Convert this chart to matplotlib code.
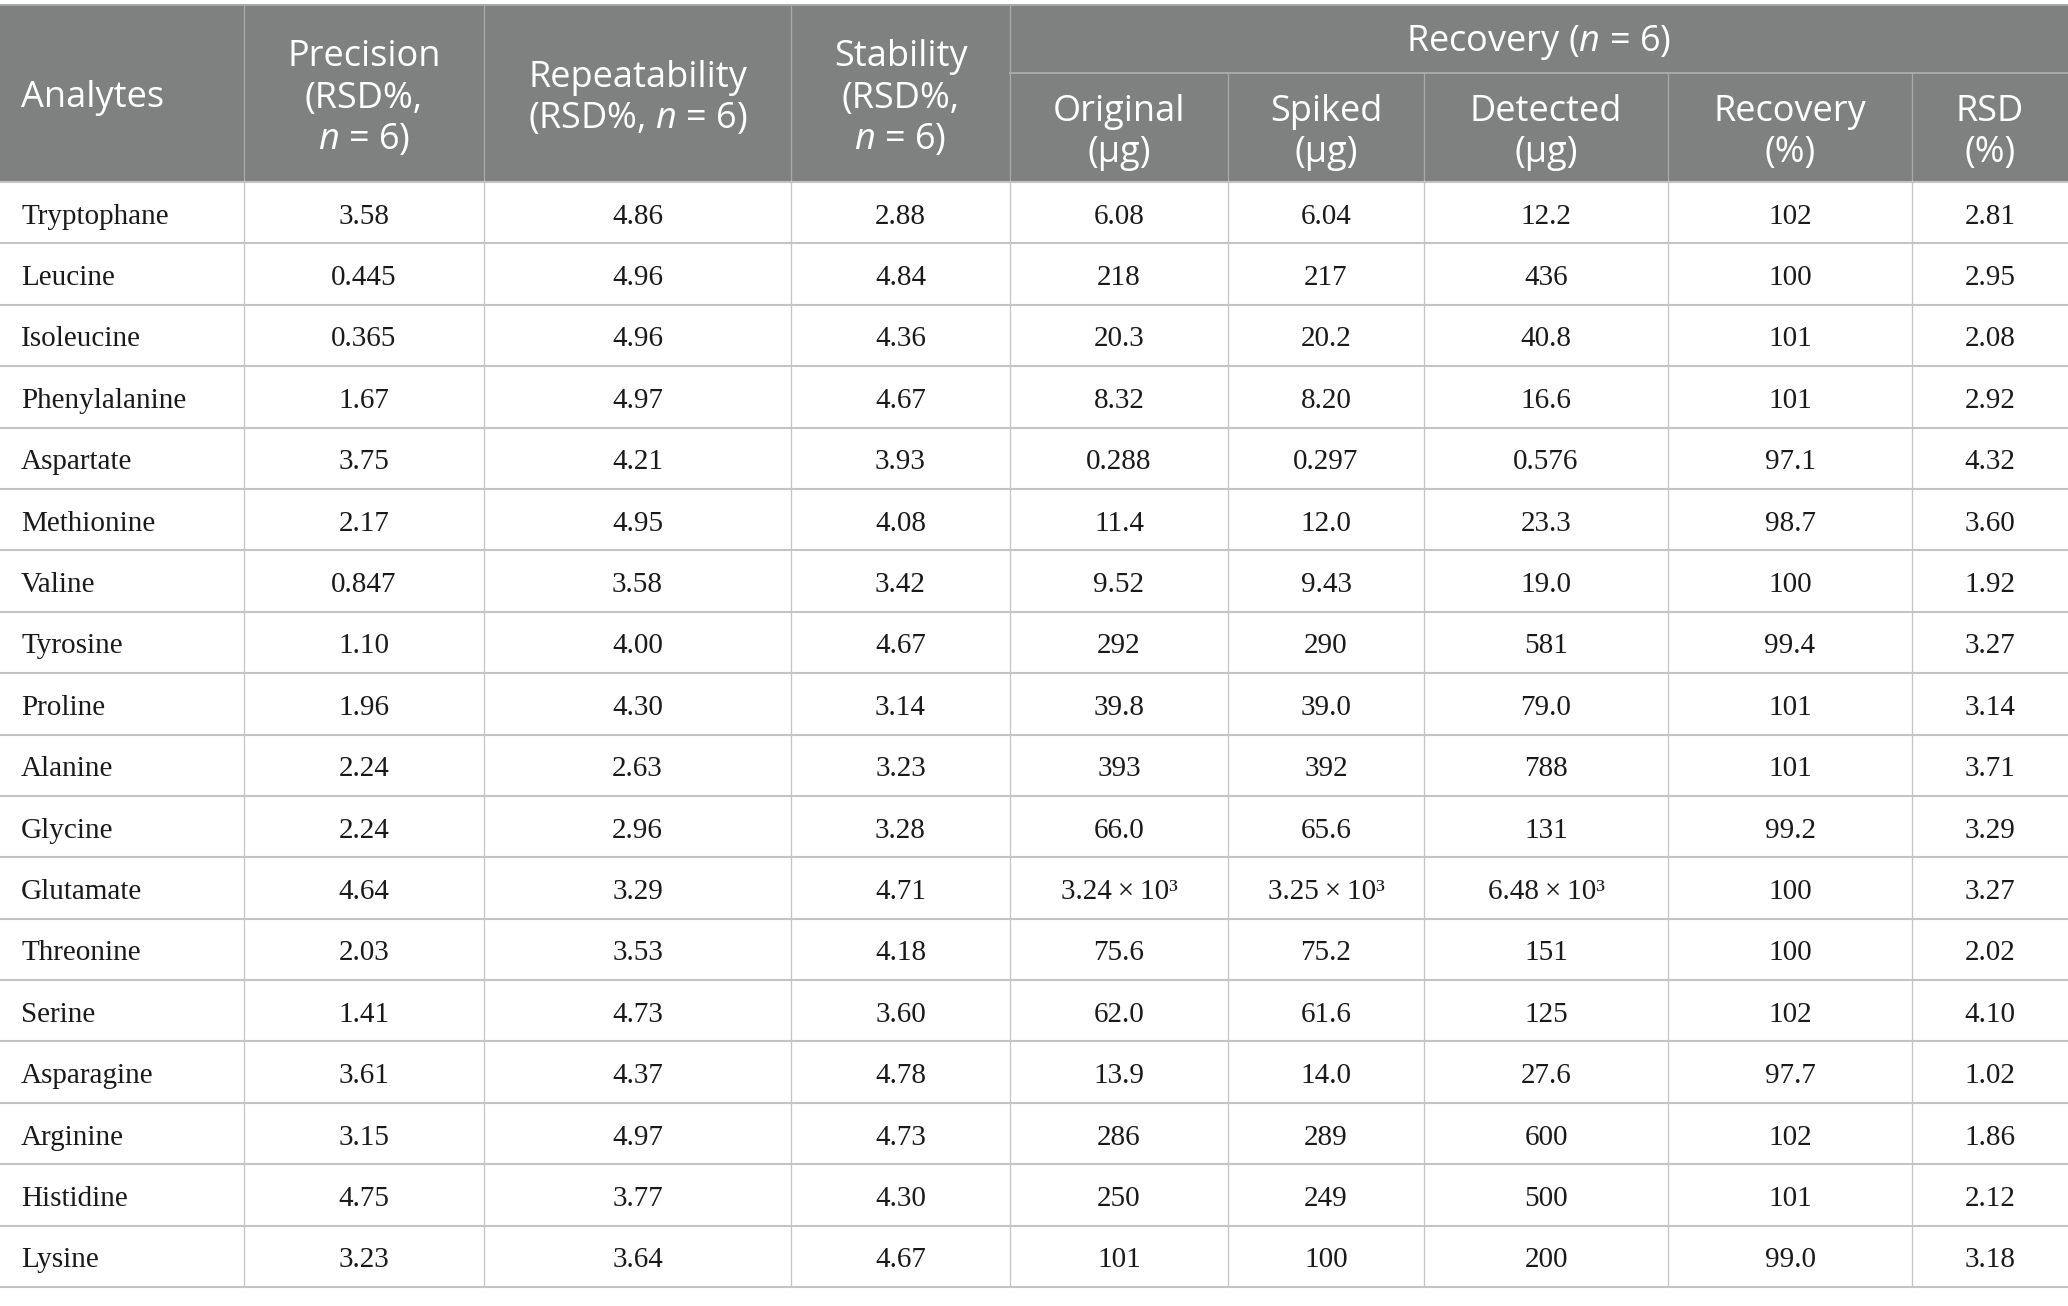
import matplotlib
matplotlib.use("Agg")
import matplotlib.pyplot as plt
from matplotlib.patches import Rectangle

plt.rcParams["mathtext.fontset"] = "custom"
plt.rcParams["mathtext.rm"] = "Open Sans"
plt.rcParams["mathtext.it"] = "Open Sans:italic"

analytes = ["Tryptophane", "Leucine", "Isoleucine", "Phenylalanine", "Aspartate",
            "Methionine", "Valine", "Tyrosine", "Proline", "Alanine", "Glycine",
            "Glutamate", "Threonine", "Serine", "Asparagine", "Arginine",
            "Histidine", "Lysine"]
precision = ["3.58", "0.445", "0.365", "1.67", "3.75", "2.17", "0.847", "1.10", "1.96",
             "2.24", "2.24", "4.64", "2.03", "1.41", "3.61", "3.15", "4.75", "3.23"]
repeatability = ["4.86", "4.96", "4.96", "4.97", "4.21", "4.95", "3.58", "4.00", "4.30",
                 "2.63", "2.96", "3.29", "3.53", "4.73", "4.37", "4.97", "3.77", "3.64"]
stability = ["2.88", "4.84", "4.36", "4.67", "3.93", "4.08", "3.42", "4.67", "3.14",
             "3.23", "3.28", "4.71", "4.18", "3.60", "4.78", "4.73", "4.30", "4.67"]
original = ["6.08", "218", "20.3", "8.32", "0.288", "11.4", "9.52", "292", "39.8",
            "393", "66.0", "3.24\u2009\u00d7\u200910\u00b3", "75.6", "62.0", "13.9", "286", "250", "101"]
spiked = ["6.04", "217", "20.2", "8.20", "0.297", "12.0", "9.43", "290", "39.0",
          "392", "65.6", "3.25\u2009\u00d7\u200910\u00b3", "75.2", "61.6", "14.0", "289", "249", "100"]
detected = ["12.2", "436", "40.8", "16.6", "0.576", "23.3", "19.0", "581", "79.0",
            "788", "131", "6.48\u2009\u00d7\u200910\u00b3", "151", "125", "27.6", "600", "500", "200"]
recovery = ["102", "100", "101", "101", "97.1", "98.7", "100", "99.4", "101",
            "101", "99.2", "100", "100", "102", "97.7", "102", "101", "99.0"]
rsd = ["2.81", "2.95", "2.08", "2.92", "4.32", "3.60", "1.92", "3.27", "3.14",
       "3.71", "3.29", "3.27", "2.02", "4.10", "1.02", "1.86", "2.12", "3.18"]

main_headers = ["Analytes", "Precision\n(RSD%,\n$n$ = 6)", "Repeatability\n(RSD%, $n$ = 6)",
                "Stability\n(RSD%,\n$n$ = 6)"]
group_header = "Recovery ($n$ = 6)"
sub_headers = ["Original\n(\u03bcg)", "Spiked\n(\u03bcg)", "Detected\n(\u03bcg)",
               "Recovery\n(%)", "RSD\n(%)"]

columns = [analytes, precision, repeatability, stability, original, spiked,
           detected, recovery, rsd]

# layout in pixels
W, H = 2068, 1306
col_edges = [0, 244, 484, 791, 1010, 1228, 1424, 1668, 1912, 2068]
top, mid, head_bottom, bottom = 5, 73, 182, 1287
row_h = (bottom - head_bottom) / len(analytes)

header_bg = "#7f8180"
head_line = "#a8a9a8"
grid = "#c4c4c4"
sans = "Open Sans"
serif = "Liberation Serif"

fig = plt.figure(figsize=(W / 100, H / 100), dpi=100)
ax = fig.add_axes([0, 0, 1, 1])
ax.set_xlim(0, W)
ax.set_ylim(H, 0)
ax.axis("off")

# header background
ax.add_patch(Rectangle((0, top), W, head_bottom - top, facecolor=header_bg, edgecolor="none"))
ax.plot([0, W], [top, top], color=head_line, lw=1.4)
for x in col_edges[1:5]:
    ax.plot([x, x], [top, head_bottom], color=head_line, lw=0.9)
for x in col_edges[5:-1]:
    ax.plot([x, x], [mid, head_bottom], color=head_line, lw=0.9)
ax.plot([col_edges[4], W], [mid, mid], color=head_line, lw=1.4)

hfs = 26
ls = 1.22
head_cy = (top + head_bottom) / 2 + 5
ax.text(21, head_cy, main_headers[0], ha="left", va="center", color="white",
        fontsize=hfs, family=sans, linespacing=ls)
for i, lab in enumerate(main_headers[1:], start=1):
    cx = (col_edges[i] + col_edges[i + 1]) / 2
    ax.text(cx, head_cy, lab, ha="center", va="center", color="white",
            fontsize=hfs, family=sans, linespacing=ls)
ax.text((col_edges[4] + W) / 2, (top + mid) / 2 + 4, group_header, ha="center", va="center",
        color="white", fontsize=hfs, family=sans)
for j, lab in enumerate(sub_headers):
    i = j + 4
    cx = (col_edges[i] + col_edges[i + 1]) / 2
    ax.text(cx, (mid + head_bottom) / 2 + 5, lab, ha="center", va="center", color="white",
            fontsize=hfs, family=sans, linespacing=ls)

# body grid
for r in range(len(analytes) + 1):
    y = head_bottom + r * row_h
    ax.plot([0, W], [y, y], color=grid, lw=1.5)
for x in col_edges[1:-1]:
    ax.plot([x, x], [head_bottom, bottom], color=grid, lw=0.9)

dfs = 21
for c, vals in enumerate(columns):
    for r, v in enumerate(vals):
        base = head_bottom + (r + 0.5) * row_h + 11
        if c == 0:
            ax.text(21, base, v, ha="left", va="baseline", fontsize=dfs, family=serif, color="#1a1a1a")
        else:
            cx = (col_edges[c] + col_edges[c + 1]) / 2
            ax.text(cx, base, v, ha="center", va="baseline", fontsize=dfs, family=serif, color="#1a1a1a")

fig.savefig("out.png", dpi=100, facecolor="white")
